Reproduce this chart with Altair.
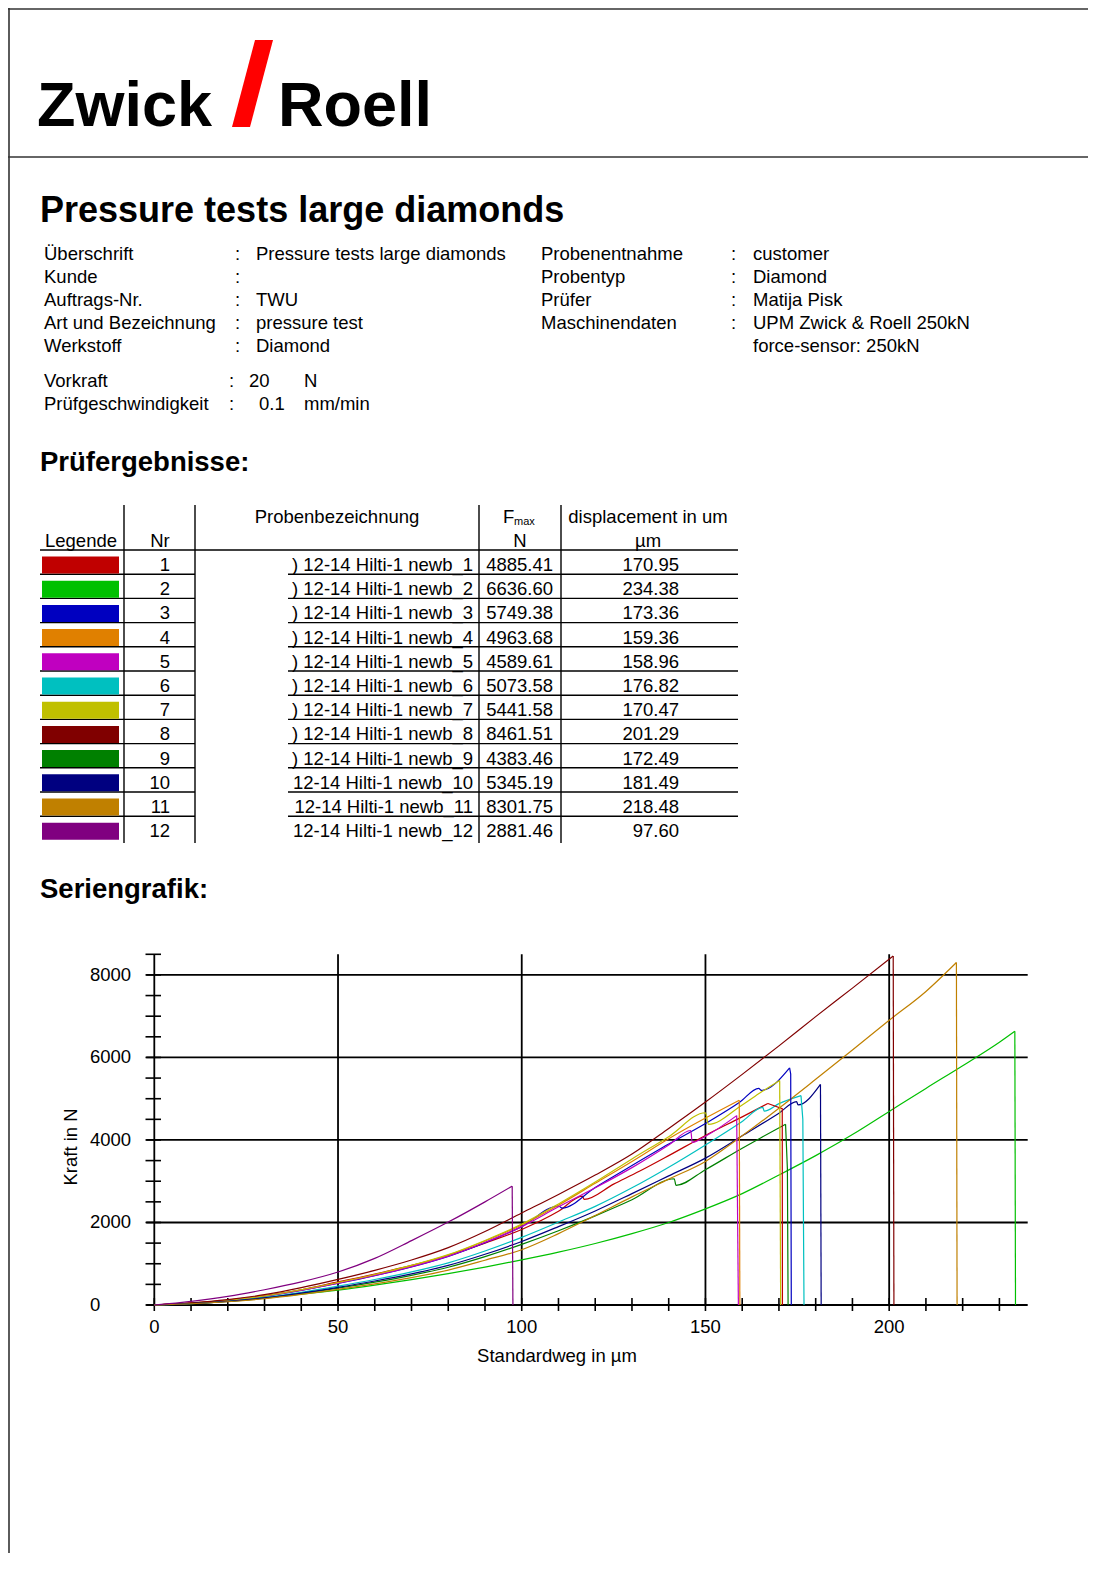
import altair as alt
import pandas as pd

# ------------------------------------------------------------------ content
logo_left = "Zwick"
logo_right = "Roell"
report_title = "Pressure tests large diamonds"

info_left_labels = ["Überschrift", "Kunde", "Auftrags-Nr.", "Art und Bezeichnung", "Werkstoff"]
info_left_values = ["Pressure tests large diamonds", "", "TWU", "pressure test", "Diamond"]
info_right_labels = ["Probenentnahme", "Probentyp", "Prüfer", "Maschinendaten", ""]
info_right_values = ["customer", "Diamond", "Matija Pisk", "UPM Zwick & Roell 250kN", "force-sensor: 250kN"]
param_labels = ["Vorkraft", "Prüfgeschwindigkeit"]
param_values = ["20", "0.1"]
param_units = ["N", "mm/min"]

section_results = "Prüfergebnisse:"
section_graph = "Seriengrafik:"

nr = [1, 2, 3, 4, 5, 6, 7, 8, 9, 10, 11, 12]
names = ["12-14 Hilti-1 newb_%d" % i for i in nr]
fmax = ["4885.41", "6636.60", "5749.38", "4963.68", "4589.61", "5073.58",
        "5441.58", "8461.51", "4383.46", "5345.19", "8301.75", "2881.46"]
disp = ["170.95", "234.38", "173.36", "159.36", "158.96", "176.82",
        "170.47", "201.29", "172.49", "181.49", "218.48", "97.60"]
colors = ["#C00000", "#00C000", "#0000C0", "#E08000", "#C000C0", "#00C0C0",
          "#C0C000", "#800000", "#008000", "#000080", "#C08000", "#800080"]

# curves: rising part (displacement in µm, force in N) and break part
rise_x_1 = [0, 10, 20, 30, 40, 50, 60, 70, 80, 90, 100, 110, 116.5, 117, 125, 132, 140, 150, 160, 167]
rise_f_1 = [0, 45, 120, 225, 370, 560, 750, 960, 1200, 1500, 1830, 2270, 2640, 2560, 2930, 3240, 3620, 4110, 4560, 4885]
drop_x_1 = [167, 170.9, 170.95]
drop_f_1 = [4885, 4760, 0]

rise_x_2 = [0, 10, 20, 30, 40, 50, 60, 70, 80, 90, 100, 110, 120, 130, 140, 150, 160, 170, 180, 190, 200, 210, 220, 230, 234.2]
rise_f_2 = [0, 35, 95, 170, 260, 360, 480, 615, 760, 920, 1093, 1280, 1490, 1730, 2000, 2330, 2700, 3150, 3620, 4130, 4690, 5250, 5800, 6370, 6637]
drop_x_2 = [234.2, 234.38]
drop_f_2 = [6637, 0]

rise_x_3 = [0, 10, 20, 30, 40, 50, 60, 70, 80, 90, 100, 110, 111, 120, 130, 140, 150, 159.3, 164.5, 165.2, 172.9]
rise_f_3 = [0, 40, 108, 210, 352, 525, 712, 925, 1180, 1512, 1900, 2400, 2350, 2850, 3380, 3900, 4400, 4915, 5250, 5200, 5749]
drop_x_3 = [172.9, 173.2, 173.36]
drop_f_3 = [5749, 5600, 0]

rise_x_4 = [0, 10, 20, 30, 40, 50, 60, 70, 80, 90, 100, 110, 120, 130, 140, 150, 159.2]
rise_f_4 = [0, 45, 112, 217, 365, 540, 730, 950, 1210, 1550, 1940, 2420, 2950, 3480, 4030, 4530, 4964]
drop_x_4 = [159.2, 159.36]
drop_f_4 = [4964, 0]

rise_x_5 = [0, 10, 20, 30, 40, 50, 60, 70, 80, 90, 100, 110, 120, 130, 140, 146, 146.4, 150, 158.5]
rise_f_5 = [0, 42, 110, 213, 357, 528, 716, 929, 1184, 1516, 1900, 2380, 2840, 3330, 3880, 4230, 3940, 4090, 4590]
drop_x_5 = [158.5, 158.96]
drop_f_5 = [4590, 0]

rise_x_6 = [0, 10, 20, 30, 40, 50, 60, 70, 80, 90, 100, 110, 120, 130, 140, 150, 160, 165.6, 166, 170, 176]
rise_f_6 = [0, 36, 95, 184, 308, 456, 618, 802, 1022, 1309, 1640, 2010, 2390, 2840, 3340, 3880, 4450, 4790, 4700, 4880, 5074]
drop_x_6 = [176, 176.5, 176.82]
drop_f_6 = [5074, 4500, 0]

rise_x_7 = [0, 10, 20, 30, 40, 50, 60, 70, 80, 90, 100, 110, 120, 130, 140, 150, 150.8, 160, 165, 170.2]
rise_f_7 = [0, 45, 115, 220, 370, 545, 740, 960, 1220, 1565, 1960, 2450, 2980, 3540, 4080, 4660, 4380, 4850, 5150, 5442]
drop_x_7 = [170.2, 170.47]
drop_f_7 = [5442, 0]

rise_x_8 = [0, 10, 20, 30, 40, 50, 60, 70, 80, 90, 100, 110, 120, 130, 140, 150, 160, 170, 180, 190, 201.1]
rise_f_8 = [0, 50, 130, 250, 420, 620, 840, 1090, 1390, 1780, 2230, 2680, 3150, 3660, 4280, 4920, 5590, 6280, 6990, 7680, 8461]
drop_x_8 = [201.1, 201.29]
drop_f_8 = [8461, 0]

rise_x_9 = [0, 10, 20, 30, 40, 50, 60, 70, 80, 90, 100, 110, 120, 130, 141.5, 142, 150, 160, 165, 171.8]
rise_f_9 = [0, 32, 85, 165, 276, 409, 554, 719, 916, 1173, 1470, 1800, 2160, 2550, 3060, 2900, 3280, 3800, 4050, 4383]
drop_x_9 = [171.8, 172.3, 172.49]
drop_f_9 = [4383, 3300, 0]

rise_x_10 = [0, 10, 20, 30, 40, 50, 60, 70, 80, 90, 100, 110, 120, 130, 140, 150, 160, 170, 174.8, 175.2, 181.3]
rise_f_10 = [0, 34, 89, 172, 290, 428, 581, 753, 959, 1229, 1540, 1900, 2280, 2700, 3130, 3560, 4100, 4650, 4930, 4850, 5345]
drop_x_10 = [181.3, 181.49]
drop_f_10 = [5345, 0]

rise_x_11 = [0, 10, 20, 30, 40, 50, 60, 70, 80, 90, 100, 110, 120, 130, 140, 150, 160, 170, 180, 190, 200, 210, 218.3]
rise_f_11 = [0, 30, 79, 152, 256, 378, 513, 665, 847, 1085, 1340, 1730, 2170, 2620, 3050, 3480, 4100, 4770, 5470, 6180, 6900, 7600, 8302]
drop_x_11 = [218.3, 218.48]
drop_f_11 = [8302, 0]

rise_x_12 = [0, 10, 20, 30, 40, 50, 60, 70, 80, 90, 97.4]
rise_f_12 = [0, 90, 210, 370, 560, 800, 1130, 1560, 2010, 2500, 2881]
drop_x_12 = [97.4, 97.6]
drop_f_12 = [2881, 0]

x_tick_labels = [0, 50, 100, 150, 200]
y_tick_labels = [0, 2000, 4000, 6000, 8000]
x_title = "Standardweg in µm"
y_title = "Kraft in N"

# ------------------------------------------------------------------ layout
W, H = 1080, 1545
FONT = "Liberation Sans"
REG = 18.5

rises = [(rise_x_1, rise_f_1), (rise_x_2, rise_f_2), (rise_x_3, rise_f_3), (rise_x_4, rise_f_4),
         (rise_x_5, rise_f_5), (rise_x_6, rise_f_6), (rise_x_7, rise_f_7), (rise_x_8, rise_f_8),
         (rise_x_9, rise_f_9), (rise_x_10, rise_f_10), (rise_x_11, rise_f_11), (rise_x_12, rise_f_12)]
drops = [(drop_x_1, drop_f_1), (drop_x_2, drop_f_2), (drop_x_3, drop_f_3), (drop_x_4, drop_f_4),
         (drop_x_5, drop_f_5), (drop_x_6, drop_f_6), (drop_x_7, drop_f_7), (drop_x_8, drop_f_8),
         (drop_x_9, drop_f_9), (drop_x_10, drop_f_10), (drop_x_11, drop_f_11), (drop_x_12, drop_f_12)]

color_scale = alt.Scale(domain=[str(i) for i in nr], range=colors)


def text_layer(rows, size=REG, weight="normal", align="left", baseline="middle", angle=None):
    df = pd.DataFrame(rows, columns=["x", "y", "t"])
    kw = dict(font=FONT, fontSize=size, fontWeight=weight, align=align,
              baseline=baseline, color="black")
    if angle is not None:
        kw["angle"] = angle
    return alt.Chart(df).mark_text(**kw).encode(
        x=alt.X("x:Q", scale=None), y=alt.Y("y:Q", scale=None), text=alt.Text("t:N"))


def rule_layer(rows, width=1.5, color="black"):
    df = pd.DataFrame(rows, columns=["x", "x2", "y", "y2"])
    return alt.Chart(df).mark_rule(strokeWidth=width, color=color).encode(
        x=alt.X("x:Q", scale=None), x2="x2:Q", y=alt.Y("y:Q", scale=None), y2="y2:Q")


layers = []

# frame
layers.append(rule_layer([(0, W, 1, 1), (1, 1, 0, H), (0, W, 149, 149)], width=1.6, color="#333333"))

# logo
layers.append(text_layer([(29, 118, logo_left), (270, 118, logo_right)], size=63, weight="bold",
                         baseline="alphabetic"))
slash = pd.DataFrame({"y": [32, 119], "x": [247, 224], "x2": [265, 242]})
layers.append(alt.Chart(slash).mark_area(orient="horizontal", color="#FF0000").encode(
    y=alt.Y("y:Q", scale=None), x=alt.X("x:Q", scale=None), x2="x2:Q"))

# title
layers.append(text_layer([(32, 214, report_title)], size=36, weight="bold", baseline="alphabetic"))

# info block
info_y = [246, 269, 292, 315, 338]
rows = []
for i, y in enumerate(info_y):
    rows.append((36, y, info_left_labels[i]))
    rows.append((227, y, ":"))
    rows.append((248, y, info_left_values[i]))
    rows.append((533, y, info_right_labels[i]))
    if info_right_labels[i]:
        rows.append((723, y, ":"))
    rows.append((745, y, info_right_values[i]))
param_y = [373, 396]
param_val_x = [241, 251]
for i, y in enumerate(param_y):
    rows.append((36, y, param_labels[i]))
    rows.append((221, y, ":"))
    rows.append((param_val_x[i], y, param_values[i]))
    rows.append((296, y, param_units[i]))
layers.append(text_layer(rows))

# section headings
layers.append(text_layer([(32, 463, section_results), (32, 890, section_graph)],
                         size=27.5, weight="bold", baseline="alphabetic"))

# results table
row_c = [557 + 24.2 * i for i in range(len(nr))]
tbl_lines = [(32, 730, 542, 542)]
for i in range(len(nr) - 1):
    yl = 566.2 + 24.2 * i
    tbl_lines.append((32, 187, yl, yl))
    tbl_lines.append((280, 730, yl, yl))
for xv in [116, 187, 471, 553]:
    tbl_lines.append((xv, xv, 497, 835))
layers.append(rule_layer(tbl_lines, width=1.4))

layers.append(text_layer([(329, 509, "Probenbezeichnung"), (640, 509, "displacement in um"),
                          (73, 533, "Legende"), (152, 533, "Nr"), (512, 533, "N"),
                          (640, 533, "µm")], align="center"))
layers.append(text_layer([(495, 509, "F")]))
layers.append(text_layer([(506, 514, "max")], size=11))

sw = pd.DataFrame({"nr": [str(i) for i in nr],
                   "x": [34] * len(nr), "x2": [111] * len(nr),
                   "y": [c - 8.5 for c in row_c], "y2": [c + 8.5 for c in row_c]})
layers.append(alt.Chart(sw).mark_rect().encode(
    x=alt.X("x:Q", scale=None), x2="x2:Q", y=alt.Y("y:Q", scale=None), y2="y2:Q",
    color=alt.Color("nr:N", scale=color_scale, legend=None)))

right_rows = []
for i in range(len(nr)):
    label = (") " + names[i]) if nr[i] < 10 else names[i]
    right_rows.append((162, row_c[i], str(nr[i])))
    right_rows.append((465, row_c[i], label))
    right_rows.append((545, row_c[i], fmax[i]))
    right_rows.append((671, row_c[i], disp[i]))
layers.append(text_layer(right_rows, align="right"))

# ------------------------------------------------------------------ plot
XMAX, YMAX = 237.7, 8500
xs = alt.Scale(domain=[0, XMAX], range=[146.3, 1019.7], nice=False, zero=False)
ys = alt.Scale(domain=[0, YMAX], range=[1297, 946.3], nice=False, zero=False)


def PX(field):
    return alt.X(field, scale=xs, axis=None)


def PY(field):
    return alt.Y(field, scale=ys, axis=None)


vgrid = pd.DataFrame({"v": [50, 100, 150, 200, 0], "y0": 0, "y1": YMAX})
layers.append(alt.Chart(vgrid).mark_rule(strokeWidth=1.8, color="black").encode(
    x=PX("v:Q"), y=PY("y0:Q"), y2="y1:Q"))
hgrid = pd.DataFrame({"v": [0, 2000, 4000, 6000, 8000], "x0": -2.2, "x1": XMAX})
layers.append(alt.Chart(hgrid).mark_rule(strokeWidth=1.8, color="black").encode(
    y=PY("v:Q"), x=PX("x0:Q"), x2="x1:Q"))

ytk = pd.DataFrame({"v": list(range(0, YMAX + 1, 500))})
layers.append(alt.Chart(ytk).mark_rule(strokeWidth=1.6, color="black").encode(
    y=PY("v:Q"), x=alt.value(137.5), x2=alt.value(153)))
xtk = pd.DataFrame({"v": list(range(0, 231, 10))})
layers.append(alt.Chart(xtk).mark_rule(strokeWidth=1.6, color="black").encode(
    x=PX("v:Q"), y=alt.value(1290), y2=alt.value(1303)))

rise_rows, drop_rows = [], []
for i, ((rx, rf), (dx, df_)) in enumerate(zip(rises, drops)):
    for k, (a, b) in enumerate(zip(rx, rf)):
        rise_rows.append((str(nr[i]), a, b, k))
    for k, (a, b) in enumerate(zip(dx, df_)):
        drop_rows.append((str(nr[i]), a, b, k))
rise_df = pd.DataFrame(rise_rows, columns=["nr", "d", "f", "o"])
drop_df = pd.DataFrame(drop_rows, columns=["nr", "d", "f", "o"])

layers.append(alt.Chart(rise_df).mark_line(strokeWidth=1.2, interpolate="monotone").encode(
    x=PX("d:Q"), y=PY("f:Q"),
    color=alt.Color("nr:N", scale=color_scale, legend=None), order="o:Q"))
layers.append(alt.Chart(drop_df).mark_line(strokeWidth=1.2).encode(
    x=PX("d:Q"), y=PY("f:Q"),
    color=alt.Color("nr:N", scale=color_scale, legend=None), order="o:Q"))

xl = pd.DataFrame({"v": x_tick_labels, "t": [str(v) for v in x_tick_labels]})
layers.append(alt.Chart(xl).mark_text(font=FONT, fontSize=REG, align="center", baseline="middle",
                                      color="black").encode(
    x=PX("v:Q"), y=alt.value(1319), text="t:N"))
yl = pd.DataFrame({"v": y_tick_labels, "t": [str(v) for v in y_tick_labels]})
layers.append(alt.Chart(yl).mark_text(font=FONT, fontSize=REG, align="left", baseline="middle",
                                      color="black").encode(
    y=PY("v:Q"), x=alt.value(82), text="t:N"))

layers.append(text_layer([(549, 1348, x_title)], align="center"))
layers.append(text_layer([(63, 1139, y_title)], align="center", angle=270))

chart = alt.layer(*layers).properties(
    width=W, height=H, padding=0, autosize=alt.AutoSizeParams(type="none")
).configure_view(stroke=None).configure_axis(grid=False, domain=False, ticks=False, labels=False)

chart.save("out.html", embed_options={"renderer": "svg", "actions": False})
